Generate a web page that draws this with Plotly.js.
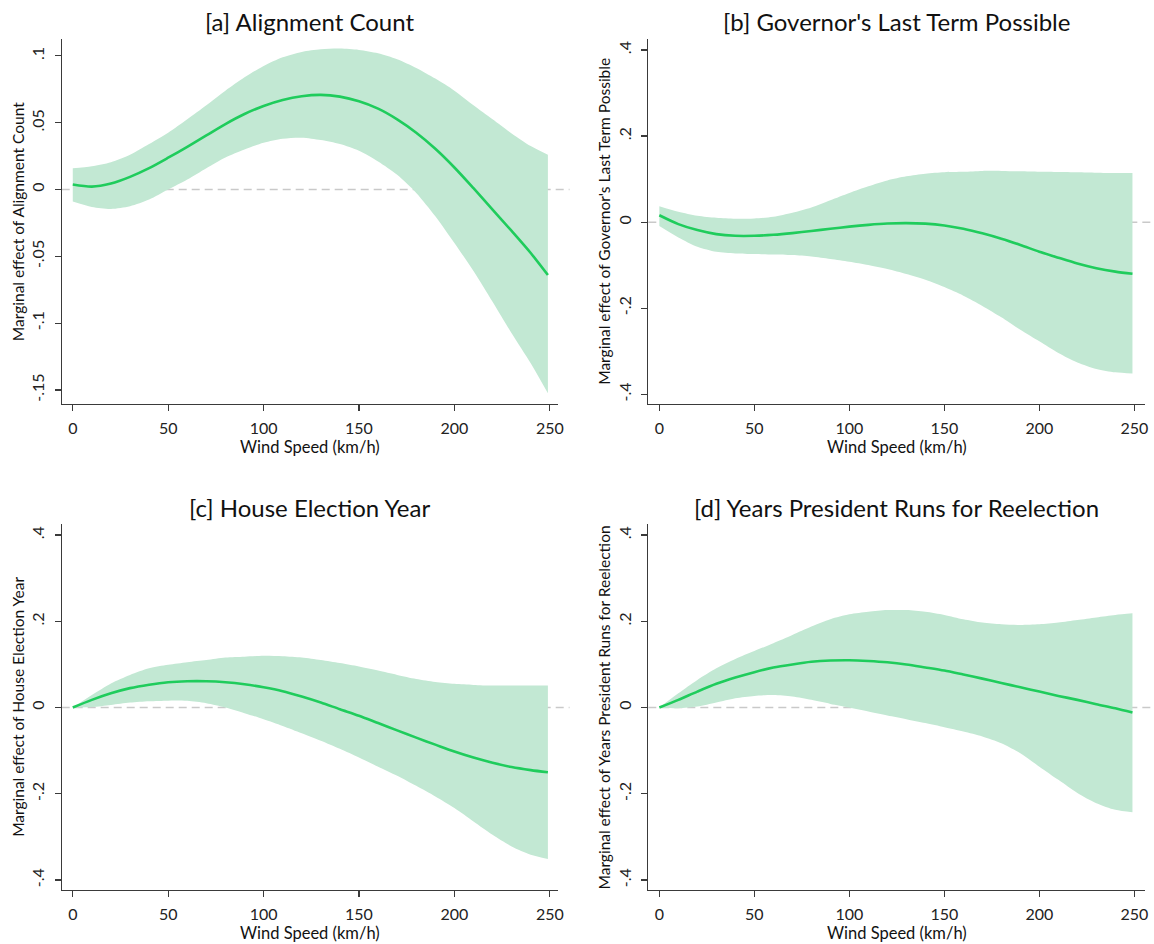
<!DOCTYPE html>
<html>
<head>
<meta charset="utf-8">
<script src="https://cdn.plot.ly/plotly-3.0.1.min.js"></script>
<style>html,body{margin:0;padding:0;background:#fff;}#chart{width:1154px;height:944px;}</style>
</head>
<body>
<div id="chart"></div>
<script>
// Wind speed grid (km/h)
const windSpeed = [0,10,20,30,40,50,60,70,80,90,100,110,120,130,140,150,160,170,180,190,200,210,220,230,240,249];

// [a] Alignment Count
const aEst   = [0.0038,0.0022,0.0045,0.0095,0.016,0.0238,0.032,0.0405,0.049,0.0565,0.0625,0.067,0.0698,0.0708,0.0695,0.066,0.0605,0.0525,0.0425,0.0305,0.0165,0.001,-0.015,-0.031,-0.0475,-0.064];
const aUpper = [0.016,0.0175,0.0205,0.026,0.034,0.0425,0.0525,0.063,0.074,0.084,0.0925,0.099,0.103,0.105,0.1055,0.1045,0.102,0.0975,0.091,0.083,0.074,0.063,0.0525,0.042,0.0325,0.026];
const aLower = [-0.009,-0.013,-0.0145,-0.0125,-0.0075,0.000,0.0075,0.016,0.024,0.030,0.035,0.038,0.0388,0.037,0.034,0.029,0.021,0.011,-0.0025,-0.020,-0.040,-0.061,-0.084,-0.1075,-0.130,-0.1525];

// [b] Governor's Last Term Possible
const bEst   = [0.016,-0.0046,-0.0185,-0.0278,-0.0317,-0.0317,-0.0295,-0.0255,-0.0205,-0.0155,-0.0105,-0.0063,-0.0032,-0.0022,-0.0035,-0.0077,-0.0154,-0.026,-0.0386,-0.053,-0.0687,-0.0826,-0.096,-0.107,-0.115,-0.120];
const bUpper = [0.037,0.024,0.0147,0.010,0.0077,0.0085,0.0124,0.0216,0.034,0.051,0.068,0.0834,0.097,0.1066,0.1127,0.116,0.117,0.119,0.119,0.118,0.117,0.1166,0.116,0.115,0.1143,0.1143];
const bLower = [-0.009,-0.0355,-0.057,-0.0687,-0.0726,-0.074,-0.075,-0.0765,-0.080,-0.0857,-0.092,-0.0996,-0.109,-0.1205,-0.134,-0.151,-0.171,-0.1946,-0.221,-0.250,-0.277,-0.304,-0.326,-0.341,-0.349,-0.352];

// [c] House Election Year
const cEst   = [0,0.0178,0.033,0.045,0.053,0.0587,0.061,0.061,0.0587,0.054,0.047,0.038,0.0255,0.0116,-0.0039,-0.019,-0.036,-0.053,-0.0698,-0.086,-0.102,-0.116,-0.128,-0.138,-0.145,-0.150];
const cUpper = [0,0.029,0.056,0.0757,0.091,0.099,0.105,0.110,0.116,0.118,0.120,0.119,0.116,0.110,0.103,0.095,0.0857,0.0757,0.0664,0.0595,0.055,0.0525,0.051,0.051,0.051,0.051];
const cLower = [0,0.001,0.006,0.0116,0.0147,0.016,0.0155,0.010,0.0,-0.013,-0.027,-0.0425,-0.0595,-0.077,-0.0957,-0.116,-0.137,-0.158,-0.1815,-0.206,-0.233,-0.264,-0.295,-0.322,-0.341,-0.351];

// [d] Years President Runs for Reelection
const dEst   = [0,0.0178,0.037,0.055,0.0695,0.082,0.0927,0.100,0.106,0.109,0.1097,0.108,0.105,0.100,0.093,0.0857,0.0765,0.067,0.057,0.047,0.037,0.027,0.0178,0.0077,-0.0015,-0.0116];
const dUpper = [0,0.033,0.064,0.091,0.1127,0.131,0.149,0.168,0.1876,0.2046,0.216,0.222,0.226,0.226,0.222,0.2147,0.2046,0.197,0.193,0.1915,0.193,0.197,0.203,0.209,0.2147,0.2185];
const dLower = [0,-0.0015,0.0023,0.0116,0.0216,0.027,0.0293,0.0255,0.0178,0.0085,0.0,-0.0093,-0.0185,-0.027,-0.036,-0.0456,-0.0556,-0.067,-0.0826,-0.106,-0.137,-0.1676,-0.198,-0.2216,-0.237,-0.2425];

const panelTitles = ["[a] Alignment Count", "[b] Governor's Last Term Possible", "[c] House Election Year", "[d] Years President Runs for Reelection"];
const yTitles = ["Marginal effect of Alignment Count", "Marginal effect of Governor's Last Term Possible", "Marginal effect of House Election Year", "Marginal effect of Years President Runs for Reelection"];
const xTitle = "Wind Speed (km/h)";
const xTickVals = [0,50,100,150,200,250];
const xTickText = ["0","50","100","150","200","250"];
const aTickVals = [-0.15,-0.1,-0.05,0,0.05,0.1];
const aTickText = ["-.15","-.1","-.05","0",".05",".1"];
const bTickVals = [-0.4,-0.2,0,0.2,0.4];
const bTickText = ["-.4","-.2","0",".2",".4"];

const BAND = "#c2e8d3";
const LINE = "#1fcc5c";
const AX = "#3a3a3a";
const FONT = "Lato, 'Open Sans', sans-serif";

const panels = [
  {est:aEst, up:aUpper, lo:aLower, xa:"x",  ya:"y"},
  {est:bEst, up:bUpper, lo:bLower, xa:"x2", ya:"y2"},
  {est:cEst, up:cUpper, lo:cLower, xa:"x3", ya:"y3"},
  {est:dEst, up:dUpper, lo:dLower, xa:"x4", ya:"y4"}
];

const traces = [];
panels.forEach(p => {
  traces.push({
    x: windSpeed, y: p.up, xaxis: p.xa, yaxis: p.ya,
    type: "scatter", mode: "lines",
    line: {width: 0, color: BAND, shape: "spline", smoothing: 0.8}, hoverinfo: "skip", showlegend: false
  });
  traces.push({
    x: windSpeed, y: p.lo, xaxis: p.xa, yaxis: p.ya,
    type: "scatter", mode: "lines", fill: "tonexty", fillcolor: BAND,
    line: {width: 0, color: BAND, shape: "spline", smoothing: 0.8}, hoverinfo: "skip", showlegend: false
  });
  traces.push({
    x: windSpeed, y: p.est, xaxis: p.xa, yaxis: p.ya,
    type: "scatter", mode: "lines",
    line: {color: LINE, width: 2.6, shape: "spline", smoothing: 0.8}, showlegend: false
  });
});

function xAxis(domain, range, anchor) {
  return {domain: domain, range: range, anchor: anchor, showgrid: false, zeroline: false,
    showline: true, linecolor: AX, linewidth: 1.2, ticks: "outside", ticklen: 6, tickwidth: 1.2, tickcolor: AX,
    tickvals: xTickVals, ticktext: xTickText, tickfont: {family: FONT, size: 16, color: "#222"}, ticklabelstandoff: 4};
}
function yAxis(domain, range, anchor, tv, tt) {
  return {domain: domain, range: range, anchor: anchor, showgrid: false, zeroline: false,
    showline: true, linecolor: AX, linewidth: 1.2, ticks: "outside", ticklen: 6, tickwidth: 1.2, tickcolor: AX,
    tickvals: tv, ticktext: tt, tickangle: -90, tickfont: {family: FONT, size: 16, color: "#222"}, ticklabelstandoff: 4};
}

const dx1 = [0.05347, 0.48354], dx2 = [0.5618, 0.9922];
const dyTop = [0.572, 0.9592], dyBot = [0.0572, 0.4449];

const layout = {
  width: 1154, height: 944,
  margin: {l: 0, r: 0, t: 0, b: 0},
  paper_bgcolor: "#fff", plot_bgcolor: "#fff",
  font: {family: FONT, color: "#111"},
  xaxis:  xAxis(dx1, [-5.8, 254.3], "y"),
  yaxis:  yAxis(dyTop, [-0.1605, 0.113], "x", aTickVals, aTickText),
  xaxis2: xAxis(dx2, [-5.8, 255.6], "y2"),
  yaxis2: yAxis(dyTop, [-0.4227, 0.4267], "x2", bTickVals, bTickText),
  xaxis3: xAxis(dx1, [-5.8, 254.3], "y3"),
  yaxis3: yAxis(dyBot, [-0.423, 0.4255], "x3", bTickVals, bTickText),
  xaxis4: xAxis(dx2, [-5.8, 255.6], "y4"),
  yaxis4: yAxis(dyBot, [-0.423, 0.4255], "x4", bTickVals, bTickText),
  shapes: [],
  annotations: []
};

const doms = [[dx1, dyTop], [dx2, dyTop], [dx1, dyBot], [dx2, dyBot]];
const yrefs = ["y", "y2", "y3", "y4"];
doms.forEach((d, i) => {
  const [dx, dy] = d;
  const cx = (dx[0] + dx[1]) / 2;
  const cy = (dy[0] + dy[1]) / 2;
  layout.shapes.push({type: "line", xref: "paper", yref: yrefs[i], x0: dx[0], x1: dx[1] + 0.01, y0: 0, y1: 0,
    line: {color: "#c9c9c9", width: 1.5, dash: "8px,5px"}, layer: "below"});
  layout.annotations.push({text: panelTitles[i], xref: "paper", yref: "paper", x: cx, y: dy[1] + 0.0175,
    xanchor: "center", yanchor: "middle", showarrow: false, font: {family: FONT, size: 24, color: "#111"}});
  layout.annotations.push({text: xTitle, xref: "paper", yref: "paper", x: cx, y: dy[0] - 0.0455,
    xanchor: "center", yanchor: "middle", showarrow: false, font: {family: FONT, size: 16.5, color: "#111"}});
  layout.annotations.push({text: yTitles[i], xref: "paper", yref: "paper", x: dx[0] - 0.038, y: cy,
    xanchor: "center", yanchor: "middle", textangle: -90, showarrow: false, font: {family: FONT, size: 15.5, color: "#111"}});
});

Plotly.newPlot("chart", traces, layout, {displayModeBar: false, staticPlot: true});
</script>
</body>
</html>
